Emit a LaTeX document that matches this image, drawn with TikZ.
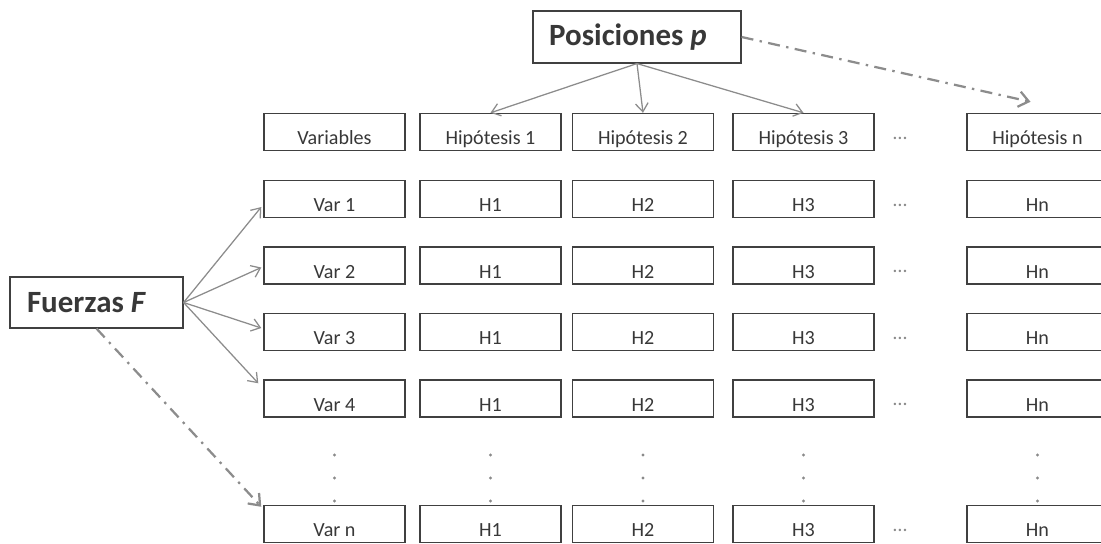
\documentclass[tikz,border=0pt]{standalone}
\usepackage{fontspec}
\setmainfont{Carlito}
\usetikzlibrary{arrows.meta}

\definecolor{boxgray}{HTML}{404040}
\definecolor{txtgray}{HTML}{383838}
\definecolor{arrgray}{HTML}{8C8C8C}
\definecolor{dotgray}{HTML}{8A8A8A}

\begin{document}
\begin{tikzpicture}[x=0.025cm,y=-0.025cm,
    cell/.style={draw=boxgray,line width=1pt,fill=white,inner sep=0pt,
      minimum width=3.525cm,minimum height=0.925cm,
      text height=18.4pt,text depth=0pt,text=txtgray,
      font=\fontsize{14.3}{16}\selectfont},
    bigbox/.style={draw=boxgray,line width=0.8pt,fill=white,inner sep=0pt,
      text=txtgray,font=\fontsize{22}{24}\selectfont\bfseries},
    hdots/.style={text=dotgray,inner sep=0pt,font=\fontsize{14.3}{16}\selectfont},
    feed/.style={draw=arrgray,line width=0.9pt,
      -{Straight Barb[length=6pt,width=9pt]}},
    chain/.style={draw=arrgray,line width=1.6pt,
      dash pattern=on 0.3cm off 0.16cm on 0.06cm off 0.16cm,
      -{Straight Barb[length=7pt,width=11pt]}}]
  \useasboundingbox (0,0) rectangle (1101,544);
  \clip (0,0) rectangle (1101,544);

  % header row
  \path
    (334.5,132) node[cell] (vars) {Variables}
    (490.5,132) node[cell] (hip1) {Hipótesis 1}
    (643,132) node[cell] (hip2) {Hipótesis 2}
    (803.5,132) node[cell] (hip3) {Hipótesis 3}
    (900,138) node[hdots] (hd0) {\ldots}
    (1037.5,132) node[cell] (hipn) {Hipótesis n};

  % rows of variables
  \path
    (334.5,199) node[cell] (var1) {Var 1}
    (490.5,199) node[cell] (h1-1) {H1}
    (643,199) node[cell] (h2-1) {H2}
    (803.5,199) node[cell] (h3-1) {H3}
    (900,205) node[hdots] (hd1) {\ldots}
    (1037.5,199) node[cell] (hn-1) {Hn};
  \path
    (334.5,265.5) node[cell] (var2) {Var 2}
    (490.5,265.5) node[cell] (h1-2) {H1}
    (643,265.5) node[cell] (h2-2) {H2}
    (803.5,265.5) node[cell] (h3-2) {H3}
    (900,271.5) node[hdots] (hd2) {\ldots}
    (1037.5,265.5) node[cell] (hn-2) {Hn};
  \path
    (334.5,332) node[cell] (var3) {Var 3}
    (490.5,332) node[cell] (h1-3) {H1}
    (643,332) node[cell] (h2-3) {H2}
    (803.5,332) node[cell] (h3-3) {H3}
    (900,338) node[hdots] (hd3) {\ldots}
    (1037.5,332) node[cell] (hn-3) {Hn};
  \path
    (334.5,398.5) node[cell] (var4) {Var 4}
    (490.5,398.5) node[cell] (h1-4) {H1}
    (643,398.5) node[cell] (h2-4) {H2}
    (803.5,398.5) node[cell] (h3-4) {H3}
    (900,404.5) node[hdots] (hd4) {\ldots}
    (1037.5,398.5) node[cell] (hn-4) {Hn};
  \path
    (334.5,524) node[cell] (varn) {Var n}
    (490.5,524) node[cell] (h1-n) {H1}
    (643,524) node[cell] (h2-n) {H2}
    (803.5,524) node[cell] (h3-n) {H3}
    (900,530) node[hdots] (hdn) {\ldots}
    (1037.5,524) node[cell] (hn-n) {Hn};

  % vertical dots between row 4 and row n
  \fill[dotgray]
    (334.5,455) circle (1.2pt) (334.5,478) circle (1.2pt) (334.5,501) circle (1.2pt)
    (490.5,455) circle (1.2pt) (490.5,478) circle (1.2pt) (490.5,501) circle (1.2pt)
    (643,455) circle (1.2pt) (643,478) circle (1.2pt) (643,501) circle (1.2pt)
    (803.5,455) circle (1.2pt) (803.5,478) circle (1.2pt) (803.5,501) circle (1.2pt)
    (1037.5,455) circle (1.2pt) (1037.5,478) circle (1.2pt) (1037.5,501) circle (1.2pt);

  % the two sources
  \path
    (637,37) node[bigbox,minimum width=5.2cm,minimum height=1.3cm] (pos)
      {Posiciones \textit{p}\hspace*{0.45cm}}
    (96.5,302.5) node[bigbox,minimum width=4.325cm,minimum height=1.275cm] (fue)
      {Fuerzas \textit{F}\hspace*{0.5cm}};

  \draw[feed] (pos.south) -- (hip1.north);
  \draw[feed] (pos.south) -- (hip2.north);
  \draw[feed] (pos.south) -- (hip3.north);
  \draw[chain] (pos.east) -- ([shift={(-7,-11)}]hipn.north);

  \draw[feed] (fue.east) -- ([shift={(-2,8)}]var1.west);
  \draw[feed] (fue.east) -- ([shift={(-2,2)}]var2.west);
  \draw[feed] (fue.east) -- ([shift={(-2,-4)}]var3.west);
  \draw[feed] (fue.east) -- ([shift={(-5,4)}]var4.north west);
  \draw[chain] (fue.south) -- ([shift={(-2,2)}]varn.north west);
\end{tikzpicture}
\end{document}
